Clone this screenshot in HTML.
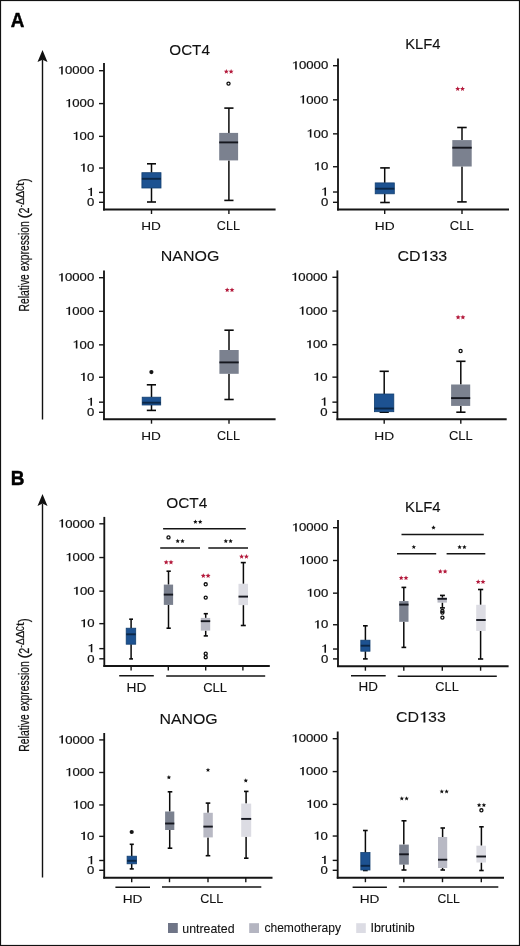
<!DOCTYPE html>
<html><head><meta charset="utf-8"><style>
html,body{margin:0;padding:0;background:#fff;width:520px;height:946px;overflow:hidden}
</style></head><body>
<svg width="520" height="946" viewBox="0 0 520 946" style="display:block;will-change:transform">
<g font-family='"Liberation Sans", sans-serif'>
<rect x="0" y="0" width="520" height="946" fill="#fff"/>
<rect x="0.5" y="0.5" width="519" height="945" fill="none" stroke="#111" stroke-width="1.2"/>
<text transform="translate(10.63,27.30) scale(0.9609,1)" font-size="19.62" font-weight="bold" fill="#000" stroke="#000" stroke-width="0.45">A</text>
<text transform="translate(10.73,484.50) scale(0.9839,1)" font-size="19.33" font-weight="bold" fill="#000" stroke="#000" stroke-width="0.45">B</text>
<polygon points="42.50,50.00 37.50,62.10 42.50,59.70 47.50,62.10" fill="#111"/>
<line x1="42.50" y1="59.50" x2="42.50" y2="419.40" stroke="#111" stroke-width="1.4"/>
<polygon points="42.50,494.00 37.50,506.00 42.50,503.60 47.50,506.00" fill="#111"/>
<line x1="42.50" y1="503.40" x2="42.50" y2="877.50" stroke="#111" stroke-width="1.4"/>
<text transform="translate(28.80,311.55) rotate(-90) scale(0.6817,1)" font-size="15.20" fill="#111" stroke="#111" stroke-width="0.22">Relative expression</text>
<text transform="translate(28.80,218.73) rotate(-90) scale(1.0918,1)" font-size="15.20" fill="#111" stroke="#111" stroke-width="0.22">(</text>
<text transform="translate(28.80,213.54) rotate(-90) scale(0.7076,1)" font-size="15.20" fill="#111" stroke="#111" stroke-width="0.22">2</text>
<text transform="translate(23.50,207.31) rotate(-90) scale(0.6474,1)" font-size="10.76" fill="#111" stroke="#111" stroke-width="0.22">-</text>
<text transform="translate(23.50,204.81) rotate(-90) scale(0.9635,1)" font-size="10.76" fill="#111" stroke="#111" stroke-width="0.22">Δ</text>
<text transform="translate(23.50,197.92) rotate(-90) scale(1.0094,1)" font-size="10.76" fill="#111" stroke="#111" stroke-width="0.22">Δ</text>
<text transform="translate(23.50,190.83) rotate(-90) scale(0.6019,1)" font-size="10.76" fill="#111" stroke="#111" stroke-width="0.22">C</text>
<text transform="translate(23.50,186.00) rotate(-90) scale(1.2014,1)" font-size="10.76" fill="#111" stroke="#111" stroke-width="0.22">t</text>
<text transform="translate(28.80,182.27) rotate(-90) scale(0.7940,1)" font-size="15.20" fill="#111" stroke="#111" stroke-width="0.22">)</text>
<text transform="translate(28.80,751.65) rotate(-90) scale(0.6817,1)" font-size="15.20" fill="#111" stroke="#111" stroke-width="0.22">Relative expression</text>
<text transform="translate(28.80,658.83) rotate(-90) scale(1.0918,1)" font-size="15.20" fill="#111" stroke="#111" stroke-width="0.22">(</text>
<text transform="translate(28.80,653.64) rotate(-90) scale(0.7076,1)" font-size="15.20" fill="#111" stroke="#111" stroke-width="0.22">2</text>
<text transform="translate(23.50,647.41) rotate(-90) scale(0.6474,1)" font-size="10.76" fill="#111" stroke="#111" stroke-width="0.22">-</text>
<text transform="translate(23.50,644.91) rotate(-90) scale(0.9635,1)" font-size="10.76" fill="#111" stroke="#111" stroke-width="0.22">Δ</text>
<text transform="translate(23.50,638.02) rotate(-90) scale(1.0094,1)" font-size="10.76" fill="#111" stroke="#111" stroke-width="0.22">Δ</text>
<text transform="translate(23.50,630.93) rotate(-90) scale(0.6019,1)" font-size="10.76" fill="#111" stroke="#111" stroke-width="0.22">C</text>
<text transform="translate(23.50,626.10) rotate(-90) scale(1.2014,1)" font-size="10.76" fill="#111" stroke="#111" stroke-width="0.22">t</text>
<text transform="translate(28.80,622.37) rotate(-90) scale(0.7940,1)" font-size="15.20" fill="#111" stroke="#111" stroke-width="0.22">)</text>
<line x1="104.00" y1="63.00" x2="104.00" y2="210.40" stroke="#151515" stroke-width="1.85"/>
<line x1="103.10" y1="209.50" x2="275.60" y2="209.50" stroke="#151515" stroke-width="1.85"/>
<line x1="99.00" y1="70.70" x2="104.00" y2="70.70" stroke="#151515" stroke-width="1.4"/>
<path d="M61.18,74.40 L62.76,74.40 L62.76,66.17 L61.58,66.17 L60.92,67.00 L60.13,67.41 L58.94,67.58 L58.94,68.41 L60.13,68.23 L61.18,67.82 Z" fill="#111"/>
<text transform="translate(64.95,74.40) scale(1.1200,1)" font-size="11.75" fill="#111" stroke="#111" stroke-width="0.22">0000</text>
<line x1="99.00" y1="103.59" x2="104.00" y2="103.59" stroke="#151515" stroke-width="1.4"/>
<path d="M68.50,107.29 L70.08,107.29 L70.08,99.06 L68.89,99.06 L68.24,99.88 L67.45,100.29 L66.26,100.47 L66.26,101.29 L67.45,101.12 L68.50,100.71 Z" fill="#111"/>
<text transform="translate(72.26,107.29) scale(1.1200,1)" font-size="11.75" fill="#111" stroke="#111" stroke-width="0.22">000</text>
<line x1="99.00" y1="136.36" x2="104.00" y2="136.36" stroke="#151515" stroke-width="1.4"/>
<path d="M75.82,140.06 L77.39,140.06 L77.39,131.83 L76.21,131.83 L75.55,132.66 L74.76,133.07 L73.58,133.24 L73.58,134.07 L74.76,133.89 L75.82,133.48 Z" fill="#111"/>
<text transform="translate(79.58,140.06) scale(1.1200,1)" font-size="11.75" fill="#111" stroke="#111" stroke-width="0.22">00</text>
<line x1="99.00" y1="168.04" x2="104.00" y2="168.04" stroke="#151515" stroke-width="1.4"/>
<path d="M83.13,171.74 L84.71,171.74 L84.71,163.51 L83.53,163.51 L82.87,164.34 L82.08,164.75 L80.90,164.92 L80.90,165.75 L82.08,165.57 L83.13,165.16 Z" fill="#111"/>
<text transform="translate(86.90,171.74) scale(1.1200,1)" font-size="11.75" fill="#111" stroke="#111" stroke-width="0.22">0</text>
<line x1="99.00" y1="192.40" x2="104.00" y2="192.40" stroke="#151515" stroke-width="1.4"/>
<path d="M90.45,196.10 L92.03,196.10 L92.03,187.87 L90.84,187.87 L90.19,188.69 L89.40,189.10 L88.21,189.28 L88.21,190.10 L89.40,189.93 L90.45,189.52 Z" fill="#111"/>
<line x1="99.00" y1="202.30" x2="104.00" y2="202.30" stroke="#151515" stroke-width="1.4"/>
<text transform="translate(86.90,206.00) scale(1.1200,1)" font-size="11.75" fill="#111" stroke="#111" stroke-width="0.22">0</text>
<text transform="translate(169.28,54.70) scale(1.0140,1)" font-size="15.04" fill="#111" stroke="#111" stroke-width="0.1">OCT4</text>
<line x1="151.50" y1="163.80" x2="151.50" y2="172.70" stroke="#0a0a0a" stroke-width="1.5"/>
<line x1="151.50" y1="188.00" x2="151.50" y2="202.00" stroke="#0a0a0a" stroke-width="1.5"/>
<line x1="147.00" y1="163.80" x2="156.00" y2="163.80" stroke="#0a0a0a" stroke-width="1.6"/>
<line x1="147.00" y1="202.00" x2="156.00" y2="202.00" stroke="#0a0a0a" stroke-width="1.6"/>
<rect x="141.90" y="172.70" width="19.10" height="15.30" fill="#1d5291" stroke="#123f70" stroke-width="0.8"/>
<line x1="141.90" y1="178.80" x2="161.00" y2="178.80" stroke="#0b2747" stroke-width="1.9"/>
<line x1="228.90" y1="108.10" x2="228.90" y2="132.90" stroke="#0a0a0a" stroke-width="1.5"/>
<line x1="228.90" y1="160.40" x2="228.90" y2="200.40" stroke="#0a0a0a" stroke-width="1.5"/>
<line x1="224.30" y1="108.10" x2="233.50" y2="108.10" stroke="#0a0a0a" stroke-width="1.6"/>
<line x1="224.30" y1="200.40" x2="233.50" y2="200.40" stroke="#0a0a0a" stroke-width="1.6"/>
<rect x="219.20" y="132.90" width="18.90" height="27.50" fill="#7b818f"/>
<line x1="219.20" y1="142.40" x2="238.10" y2="142.40" stroke="#15171f" stroke-width="1.9"/>
<circle cx="228.50" cy="83.60" r="1.55" fill="none" stroke="#0d0d0d" stroke-width="1.3"/>
<polygon points="226.30,69.00 226.99,70.65 228.77,70.80 227.41,71.96 227.83,73.70 226.30,72.77 224.77,73.70 225.19,71.96 223.83,70.80 225.61,70.65" fill="#b41a3c"/>
<polygon points="231.10,69.00 231.79,70.65 233.57,70.80 232.21,71.96 232.63,73.70 231.10,72.77 229.57,73.70 229.99,71.96 228.63,70.80 230.41,70.65" fill="#b41a3c"/>
<line x1="151.50" y1="209.50" x2="151.50" y2="214.00" stroke="#151515" stroke-width="1.4"/>
<line x1="228.90" y1="209.50" x2="228.90" y2="214.00" stroke="#151515" stroke-width="1.4"/>
<text transform="translate(141.18,229.80) scale(1.1711,1)" font-size="11.63" fill="#111" stroke="#111" stroke-width="0.1">HD</text>
<text transform="translate(216.86,229.90) scale(1.0250,1)" font-size="12.32" fill="#111" stroke="#111" stroke-width="0.1">CLL</text>
<line x1="338.00" y1="58.50" x2="338.00" y2="210.40" stroke="#151515" stroke-width="1.85"/>
<line x1="337.10" y1="209.50" x2="509.00" y2="209.50" stroke="#151515" stroke-width="1.85"/>
<line x1="333.00" y1="65.70" x2="338.00" y2="65.70" stroke="#151515" stroke-width="1.4"/>
<path d="M295.18,69.40 L296.76,69.40 L296.76,61.17 L295.58,61.17 L294.92,62.00 L294.13,62.41 L292.94,62.58 L292.94,63.41 L294.13,63.23 L295.18,62.82 Z" fill="#111"/>
<text transform="translate(298.95,69.40) scale(1.1200,1)" font-size="11.75" fill="#111" stroke="#111" stroke-width="0.22">0000</text>
<line x1="333.00" y1="99.84" x2="338.00" y2="99.84" stroke="#151515" stroke-width="1.4"/>
<path d="M302.50,103.54 L304.08,103.54 L304.08,95.31 L302.89,95.31 L302.24,96.13 L301.45,96.54 L300.26,96.72 L300.26,97.54 L301.45,97.37 L302.50,96.96 Z" fill="#111"/>
<text transform="translate(306.26,103.54) scale(1.1200,1)" font-size="11.75" fill="#111" stroke="#111" stroke-width="0.22">000</text>
<line x1="333.00" y1="133.85" x2="338.00" y2="133.85" stroke="#151515" stroke-width="1.4"/>
<path d="M309.82,137.55 L311.39,137.55 L311.39,129.33 L310.21,129.33 L309.55,130.15 L308.76,130.56 L307.58,130.74 L307.58,131.56 L308.76,131.38 L309.82,130.97 Z" fill="#111"/>
<text transform="translate(313.58,137.55) scale(1.1200,1)" font-size="11.75" fill="#111" stroke="#111" stroke-width="0.22">00</text>
<line x1="333.00" y1="166.74" x2="338.00" y2="166.74" stroke="#151515" stroke-width="1.4"/>
<path d="M317.13,170.44 L318.71,170.44 L318.71,162.21 L317.53,162.21 L316.87,163.03 L316.08,163.45 L314.90,163.62 L314.90,164.44 L316.08,164.27 L317.13,163.86 Z" fill="#111"/>
<text transform="translate(320.90,170.44) scale(1.1200,1)" font-size="11.75" fill="#111" stroke="#111" stroke-width="0.22">0</text>
<line x1="333.00" y1="192.02" x2="338.00" y2="192.02" stroke="#151515" stroke-width="1.4"/>
<path d="M324.45,195.72 L326.03,195.72 L326.03,187.49 L324.84,187.49 L324.19,188.32 L323.40,188.73 L322.21,188.90 L322.21,189.73 L323.40,189.55 L324.45,189.14 Z" fill="#111"/>
<line x1="333.00" y1="202.30" x2="338.00" y2="202.30" stroke="#151515" stroke-width="1.4"/>
<text transform="translate(320.90,206.00) scale(1.1200,1)" font-size="11.75" fill="#111" stroke="#111" stroke-width="0.22">0</text>
<text transform="translate(405.19,48.80) scale(1.0598,1)" font-size="13.95" fill="#111" stroke="#111" stroke-width="0.1">KLF4</text>
<line x1="384.70" y1="167.90" x2="384.70" y2="182.90" stroke="#0a0a0a" stroke-width="1.5"/>
<line x1="384.70" y1="193.80" x2="384.70" y2="202.50" stroke="#0a0a0a" stroke-width="1.5"/>
<line x1="380.20" y1="167.90" x2="389.80" y2="167.90" stroke="#0a0a0a" stroke-width="1.6"/>
<line x1="380.20" y1="202.50" x2="389.80" y2="202.50" stroke="#0a0a0a" stroke-width="1.6"/>
<rect x="375.20" y="182.90" width="19.10" height="10.90" fill="#1d5291" stroke="#123f70" stroke-width="0.8"/>
<line x1="375.20" y1="188.70" x2="394.30" y2="188.70" stroke="#0b2747" stroke-width="1.9"/>
<line x1="462.00" y1="127.50" x2="462.00" y2="140.10" stroke="#0a0a0a" stroke-width="1.5"/>
<line x1="462.00" y1="166.50" x2="462.00" y2="201.90" stroke="#0a0a0a" stroke-width="1.5"/>
<line x1="457.20" y1="127.50" x2="466.70" y2="127.50" stroke="#0a0a0a" stroke-width="1.6"/>
<line x1="457.20" y1="201.90" x2="466.70" y2="201.90" stroke="#0a0a0a" stroke-width="1.6"/>
<rect x="452.30" y="140.10" width="19.40" height="26.40" fill="#7b818f"/>
<line x1="452.30" y1="147.70" x2="471.70" y2="147.70" stroke="#15171f" stroke-width="1.9"/>
<polygon points="457.70,86.30 458.39,87.95 460.17,88.10 458.81,89.26 459.23,91.00 457.70,90.07 456.17,91.00 456.59,89.26 455.23,88.10 457.01,87.95" fill="#b41a3c"/>
<polygon points="462.50,86.30 463.19,87.95 464.97,88.10 463.61,89.26 464.03,91.00 462.50,90.07 460.97,91.00 461.39,89.26 460.03,88.10 461.81,87.95" fill="#b41a3c"/>
<line x1="384.70" y1="209.50" x2="384.70" y2="214.00" stroke="#151515" stroke-width="1.4"/>
<line x1="462.00" y1="209.50" x2="462.00" y2="214.00" stroke="#151515" stroke-width="1.4"/>
<text transform="translate(374.77,229.60) scale(1.1842,1)" font-size="11.63" fill="#111" stroke="#111" stroke-width="0.1">HD</text>
<text transform="translate(449.84,230.30) scale(1.0529,1)" font-size="12.32" fill="#111" stroke="#111" stroke-width="0.1">CLL</text>
<line x1="104.00" y1="270.50" x2="104.00" y2="420.10" stroke="#151515" stroke-width="1.85"/>
<line x1="103.10" y1="419.20" x2="275.60" y2="419.20" stroke="#151515" stroke-width="1.85"/>
<line x1="99.00" y1="277.70" x2="104.00" y2="277.70" stroke="#151515" stroke-width="1.4"/>
<path d="M61.18,281.40 L62.76,281.40 L62.76,273.17 L61.58,273.17 L60.92,274.00 L60.13,274.41 L58.94,274.58 L58.94,275.41 L60.13,275.23 L61.18,274.82 Z" fill="#111"/>
<text transform="translate(64.95,281.40) scale(1.1200,1)" font-size="11.75" fill="#111" stroke="#111" stroke-width="0.22">0000</text>
<line x1="99.00" y1="311.34" x2="104.00" y2="311.34" stroke="#151515" stroke-width="1.4"/>
<path d="M68.50,315.04 L70.08,315.04 L70.08,306.81 L68.89,306.81 L68.24,307.63 L67.45,308.04 L66.26,308.22 L66.26,309.04 L67.45,308.87 L68.50,308.46 Z" fill="#111"/>
<text transform="translate(72.26,315.04) scale(1.1200,1)" font-size="11.75" fill="#111" stroke="#111" stroke-width="0.22">000</text>
<line x1="99.00" y1="344.85" x2="104.00" y2="344.85" stroke="#151515" stroke-width="1.4"/>
<path d="M75.82,348.55 L77.39,348.55 L77.39,340.33 L76.21,340.33 L75.55,341.15 L74.76,341.56 L73.58,341.74 L73.58,342.56 L74.76,342.39 L75.82,341.97 Z" fill="#111"/>
<text transform="translate(79.58,348.55) scale(1.1200,1)" font-size="11.75" fill="#111" stroke="#111" stroke-width="0.22">00</text>
<line x1="99.00" y1="377.26" x2="104.00" y2="377.26" stroke="#151515" stroke-width="1.4"/>
<path d="M83.13,380.96 L84.71,380.96 L84.71,372.73 L83.53,372.73 L82.87,373.55 L82.08,373.97 L80.90,374.14 L80.90,374.96 L82.08,374.79 L83.13,374.38 Z" fill="#111"/>
<text transform="translate(86.90,380.96) scale(1.1200,1)" font-size="11.75" fill="#111" stroke="#111" stroke-width="0.22">0</text>
<line x1="99.00" y1="402.17" x2="104.00" y2="402.17" stroke="#151515" stroke-width="1.4"/>
<path d="M90.45,405.87 L92.03,405.87 L92.03,397.65 L90.84,397.65 L90.19,398.47 L89.40,398.88 L88.21,399.06 L88.21,399.88 L89.40,399.70 L90.45,399.29 Z" fill="#111"/>
<line x1="99.00" y1="412.30" x2="104.00" y2="412.30" stroke="#151515" stroke-width="1.4"/>
<text transform="translate(86.90,416.00) scale(1.1200,1)" font-size="11.75" fill="#111" stroke="#111" stroke-width="0.22">0</text>
<text transform="translate(160.69,260.80) scale(1.0853,1)" font-size="14.75" fill="#111" stroke="#111" stroke-width="0.1">NANOG</text>
<line x1="151.50" y1="384.80" x2="151.50" y2="397.20" stroke="#0a0a0a" stroke-width="1.5"/>
<line x1="151.50" y1="405.00" x2="151.50" y2="410.40" stroke="#0a0a0a" stroke-width="1.5"/>
<line x1="146.80" y1="384.80" x2="156.00" y2="384.80" stroke="#0a0a0a" stroke-width="1.6"/>
<line x1="146.80" y1="410.40" x2="156.00" y2="410.40" stroke="#0a0a0a" stroke-width="1.6"/>
<rect x="142.20" y="397.20" width="18.50" height="7.80" fill="#1d5291" stroke="#123f70" stroke-width="0.8"/>
<line x1="142.20" y1="402.70" x2="160.70" y2="402.70" stroke="#0b2747" stroke-width="1.9"/>
<circle cx="151.40" cy="372.10" r="2.1" fill="#151515"/>
<line x1="229.00" y1="330.20" x2="229.00" y2="350.00" stroke="#0a0a0a" stroke-width="1.5"/>
<line x1="229.00" y1="373.80" x2="229.00" y2="399.50" stroke="#0a0a0a" stroke-width="1.5"/>
<line x1="224.40" y1="330.20" x2="233.70" y2="330.20" stroke="#0a0a0a" stroke-width="1.6"/>
<line x1="224.40" y1="399.50" x2="233.70" y2="399.50" stroke="#0a0a0a" stroke-width="1.6"/>
<rect x="219.40" y="350.00" width="19.30" height="23.80" fill="#7b818f"/>
<line x1="219.40" y1="362.40" x2="238.70" y2="362.40" stroke="#15171f" stroke-width="1.9"/>
<polygon points="227.20,287.40 227.89,289.05 229.67,289.20 228.31,290.36 228.73,292.10 227.20,291.17 225.67,292.10 226.09,290.36 224.73,289.20 226.51,289.05" fill="#b41a3c"/>
<polygon points="232.00,287.40 232.69,289.05 234.47,289.20 233.11,290.36 233.53,292.10 232.00,291.17 230.47,292.10 230.89,290.36 229.53,289.20 231.31,289.05" fill="#b41a3c"/>
<line x1="151.50" y1="419.20" x2="151.50" y2="423.70" stroke="#151515" stroke-width="1.4"/>
<line x1="229.00" y1="419.20" x2="229.00" y2="423.70" stroke="#151515" stroke-width="1.4"/>
<text transform="translate(141.18,439.60) scale(1.1711,1)" font-size="11.63" fill="#111" stroke="#111" stroke-width="0.1">HD</text>
<text transform="translate(216.96,440.00) scale(1.0250,1)" font-size="12.32" fill="#111" stroke="#111" stroke-width="0.1">CLL</text>
<line x1="337.40" y1="270.40" x2="337.40" y2="420.10" stroke="#151515" stroke-width="1.85"/>
<line x1="336.50" y1="419.20" x2="506.70" y2="419.20" stroke="#151515" stroke-width="1.85"/>
<line x1="332.40" y1="277.30" x2="337.40" y2="277.30" stroke="#151515" stroke-width="1.4"/>
<path d="M294.58,281.00 L296.16,281.00 L296.16,272.77 L294.98,272.77 L294.32,273.60 L293.53,274.01 L292.34,274.18 L292.34,275.01 L293.53,274.83 L294.58,274.42 Z" fill="#111"/>
<text transform="translate(298.35,281.00) scale(1.1200,1)" font-size="11.75" fill="#111" stroke="#111" stroke-width="0.22">0000</text>
<line x1="332.40" y1="311.04" x2="337.40" y2="311.04" stroke="#151515" stroke-width="1.4"/>
<path d="M301.90,314.74 L303.48,314.74 L303.48,306.51 L302.29,306.51 L301.64,307.33 L300.85,307.74 L299.66,307.92 L299.66,308.74 L300.85,308.57 L301.90,308.16 Z" fill="#111"/>
<text transform="translate(305.66,314.74) scale(1.1200,1)" font-size="11.75" fill="#111" stroke="#111" stroke-width="0.22">000</text>
<line x1="332.40" y1="344.65" x2="337.40" y2="344.65" stroke="#151515" stroke-width="1.4"/>
<path d="M309.22,348.35 L310.79,348.35 L310.79,340.13 L309.61,340.13 L308.95,340.95 L308.16,341.36 L306.98,341.54 L306.98,342.36 L308.16,342.19 L309.22,341.77 Z" fill="#111"/>
<text transform="translate(312.98,348.35) scale(1.1200,1)" font-size="11.75" fill="#111" stroke="#111" stroke-width="0.22">00</text>
<line x1="332.40" y1="377.15" x2="337.40" y2="377.15" stroke="#151515" stroke-width="1.4"/>
<path d="M316.53,380.85 L318.11,380.85 L318.11,372.63 L316.93,372.63 L316.27,373.45 L315.48,373.86 L314.30,374.04 L314.30,374.86 L315.48,374.68 L316.53,374.27 Z" fill="#111"/>
<text transform="translate(320.30,380.85) scale(1.1200,1)" font-size="11.75" fill="#111" stroke="#111" stroke-width="0.22">0</text>
<line x1="332.40" y1="402.14" x2="337.40" y2="402.14" stroke="#151515" stroke-width="1.4"/>
<path d="M323.85,405.84 L325.43,405.84 L325.43,397.62 L324.24,397.62 L323.59,398.44 L322.80,398.85 L321.61,399.03 L321.61,399.85 L322.80,399.67 L323.85,399.26 Z" fill="#111"/>
<line x1="332.40" y1="412.30" x2="337.40" y2="412.30" stroke="#151515" stroke-width="1.4"/>
<text transform="translate(320.30,416.00) scale(1.1200,1)" font-size="11.75" fill="#111" stroke="#111" stroke-width="0.22">0</text>
<text transform="translate(397.39,261.10) scale(1.0849,1)" font-size="14.75" fill="#111" stroke="#111" stroke-width="0.1">CD</text>
<path d="M424.82,261.10 L426.74,261.10 L426.74,250.77 L425.30,250.77 L424.50,251.81 L423.54,252.32 L422.10,252.54 L422.10,253.58 L423.54,253.36 L424.82,252.84 Z" fill="#111"/>
<text transform="translate(429.40,261.10) scale(1.0849,1)" font-size="14.75" fill="#111" stroke="#111" stroke-width="0.1">33</text>
<line x1="384.20" y1="371.30" x2="384.20" y2="394.00" stroke="#0a0a0a" stroke-width="1.5"/>
<line x1="384.20" y1="411.70" x2="384.20" y2="412.20" stroke="#0a0a0a" stroke-width="1.5"/>
<line x1="379.60" y1="371.30" x2="388.80" y2="371.30" stroke="#0a0a0a" stroke-width="1.6"/>
<line x1="379.60" y1="412.20" x2="388.80" y2="412.20" stroke="#0a0a0a" stroke-width="1.6"/>
<rect x="374.40" y="394.00" width="19.40" height="17.70" fill="#1d5291" stroke="#123f70" stroke-width="0.8"/>
<line x1="374.40" y1="408.50" x2="393.80" y2="408.50" stroke="#0b2747" stroke-width="1.9"/>
<line x1="460.80" y1="361.30" x2="460.80" y2="384.50" stroke="#0a0a0a" stroke-width="1.5"/>
<line x1="460.80" y1="405.90" x2="460.80" y2="412.20" stroke="#0a0a0a" stroke-width="1.5"/>
<line x1="456.30" y1="361.30" x2="465.50" y2="361.30" stroke="#0a0a0a" stroke-width="1.6"/>
<line x1="456.30" y1="412.20" x2="465.50" y2="412.20" stroke="#0a0a0a" stroke-width="1.6"/>
<rect x="451.10" y="384.50" width="19.10" height="21.40" fill="#7b818f"/>
<line x1="451.10" y1="398.10" x2="470.20" y2="398.10" stroke="#15171f" stroke-width="1.9"/>
<circle cx="460.60" cy="351.00" r="1.55" fill="none" stroke="#0d0d0d" stroke-width="1.3"/>
<polygon points="458.10,314.70 458.79,316.35 460.57,316.50 459.21,317.66 459.63,319.40 458.10,318.47 456.57,319.40 456.99,317.66 455.63,316.50 457.41,316.35" fill="#b41a3c"/>
<polygon points="462.90,314.70 463.59,316.35 465.37,316.50 464.01,317.66 464.43,319.40 462.90,318.47 461.37,319.40 461.79,317.66 460.43,316.50 462.21,316.35" fill="#b41a3c"/>
<line x1="384.20" y1="419.20" x2="384.20" y2="423.70" stroke="#151515" stroke-width="1.4"/>
<line x1="460.80" y1="419.20" x2="460.80" y2="423.70" stroke="#151515" stroke-width="1.4"/>
<text transform="translate(374.27,439.60) scale(1.1842,1)" font-size="11.63" fill="#111" stroke="#111" stroke-width="0.1">HD</text>
<text transform="translate(448.94,440.20) scale(1.0529,1)" font-size="12.32" fill="#111" stroke="#111" stroke-width="0.1">CLL</text>
<line x1="104.30" y1="516.90" x2="104.30" y2="666.90" stroke="#151515" stroke-width="1.85"/>
<line x1="103.40" y1="666.00" x2="269.80" y2="666.00" stroke="#151515" stroke-width="1.85"/>
<line x1="99.30" y1="523.80" x2="104.30" y2="523.80" stroke="#151515" stroke-width="1.4"/>
<path d="M61.48,527.50 L63.06,527.50 L63.06,519.27 L61.88,519.27 L61.22,520.10 L60.43,520.51 L59.24,520.68 L59.24,521.51 L60.43,521.33 L61.48,520.92 Z" fill="#111"/>
<text transform="translate(65.25,527.50) scale(1.1200,1)" font-size="11.75" fill="#111" stroke="#111" stroke-width="0.22">0000</text>
<line x1="99.30" y1="557.54" x2="104.30" y2="557.54" stroke="#151515" stroke-width="1.4"/>
<path d="M68.80,561.24 L70.38,561.24 L70.38,553.01 L69.19,553.01 L68.54,553.83 L67.75,554.24 L66.56,554.42 L66.56,555.24 L67.75,555.07 L68.80,554.66 Z" fill="#111"/>
<text transform="translate(72.56,561.24) scale(1.1200,1)" font-size="11.75" fill="#111" stroke="#111" stroke-width="0.22">000</text>
<line x1="99.30" y1="591.15" x2="104.30" y2="591.15" stroke="#151515" stroke-width="1.4"/>
<path d="M76.12,594.85 L77.69,594.85 L77.69,586.63 L76.51,586.63 L75.85,587.45 L75.06,587.86 L73.88,588.04 L73.88,588.86 L75.06,588.69 L76.12,588.27 Z" fill="#111"/>
<text transform="translate(79.88,594.85) scale(1.1200,1)" font-size="11.75" fill="#111" stroke="#111" stroke-width="0.22">00</text>
<line x1="99.30" y1="623.65" x2="104.30" y2="623.65" stroke="#151515" stroke-width="1.4"/>
<path d="M83.43,627.35 L85.01,627.35 L85.01,619.13 L83.83,619.13 L83.17,619.95 L82.38,620.36 L81.20,620.54 L81.20,621.36 L82.38,621.18 L83.43,620.77 Z" fill="#111"/>
<text transform="translate(87.20,627.35) scale(1.1200,1)" font-size="11.75" fill="#111" stroke="#111" stroke-width="0.22">0</text>
<line x1="99.30" y1="648.64" x2="104.30" y2="648.64" stroke="#151515" stroke-width="1.4"/>
<path d="M90.75,652.34 L92.33,652.34 L92.33,644.12 L91.14,644.12 L90.49,644.94 L89.70,645.35 L88.51,645.53 L88.51,646.35 L89.70,646.17 L90.75,645.76 Z" fill="#111"/>
<line x1="99.30" y1="658.80" x2="104.30" y2="658.80" stroke="#151515" stroke-width="1.4"/>
<text transform="translate(87.20,662.50) scale(1.1200,1)" font-size="11.75" fill="#111" stroke="#111" stroke-width="0.22">0</text>
<text transform="translate(166.17,507.50) scale(1.0269,1)" font-size="15.04" fill="#111" stroke="#111" stroke-width="0.1">OCT4</text>
<line x1="131.10" y1="619.20" x2="131.10" y2="628.20" stroke="#0a0a0a" stroke-width="1.5"/>
<line x1="131.10" y1="644.20" x2="131.10" y2="658.90" stroke="#0a0a0a" stroke-width="1.5"/>
<line x1="129.20" y1="619.20" x2="133.00" y2="619.20" stroke="#0a0a0a" stroke-width="1.6"/>
<line x1="129.20" y1="658.90" x2="133.00" y2="658.90" stroke="#0a0a0a" stroke-width="1.6"/>
<rect x="126.20" y="628.20" width="9.50" height="16.00" fill="#1d5291" stroke="#123f70" stroke-width="0.8"/>
<line x1="126.20" y1="634.30" x2="135.70" y2="634.30" stroke="#0b2747" stroke-width="1.9"/>
<line x1="168.50" y1="571.20" x2="168.50" y2="584.60" stroke="#0a0a0a" stroke-width="1.5"/>
<line x1="168.50" y1="604.90" x2="168.50" y2="628.20" stroke="#0a0a0a" stroke-width="1.5"/>
<line x1="166.50" y1="571.20" x2="170.80" y2="571.20" stroke="#0a0a0a" stroke-width="1.6"/>
<line x1="166.50" y1="628.20" x2="170.80" y2="628.20" stroke="#0a0a0a" stroke-width="1.6"/>
<rect x="163.80" y="584.60" width="9.30" height="20.30" fill="#7b818f"/>
<line x1="163.80" y1="594.60" x2="173.10" y2="594.60" stroke="#15171f" stroke-width="1.9"/>
<circle cx="168.50" cy="537.40" r="1.55" fill="none" stroke="#0d0d0d" stroke-width="1.3"/>
<polygon points="166.20,559.70 166.89,561.35 168.67,561.50 167.31,562.66 167.73,564.40 166.20,563.47 164.67,564.40 165.09,562.66 163.73,561.50 165.51,561.35" fill="#b41a3c"/>
<polygon points="171.00,559.70 171.69,561.35 173.47,561.50 172.11,562.66 172.53,564.40 171.00,563.47 169.47,564.40 169.89,562.66 168.53,561.50 170.31,561.35" fill="#b41a3c"/>
<line x1="205.70" y1="613.70" x2="205.70" y2="617.90" stroke="#0a0a0a" stroke-width="1.5"/>
<line x1="205.70" y1="630.60" x2="205.70" y2="635.90" stroke="#0a0a0a" stroke-width="1.5"/>
<line x1="203.70" y1="613.70" x2="207.90" y2="613.70" stroke="#0a0a0a" stroke-width="1.6"/>
<line x1="203.70" y1="635.90" x2="207.90" y2="635.90" stroke="#0a0a0a" stroke-width="1.6"/>
<rect x="200.80" y="617.90" width="9.40" height="12.70" fill="#b8b9c4"/>
<line x1="200.80" y1="621.20" x2="210.20" y2="621.20" stroke="#15171f" stroke-width="1.9"/>
<circle cx="205.70" cy="584.30" r="1.55" fill="none" stroke="#0d0d0d" stroke-width="1.3"/>
<circle cx="205.70" cy="597.60" r="1.55" fill="none" stroke="#0d0d0d" stroke-width="1.3"/>
<circle cx="205.70" cy="653.70" r="1.55" fill="none" stroke="#0d0d0d" stroke-width="1.3"/>
<circle cx="205.70" cy="657.20" r="1.55" fill="none" stroke="#0d0d0d" stroke-width="1.3"/>
<polygon points="203.30,573.20 203.99,574.85 205.77,575.00 204.41,576.16 204.83,577.90 203.30,576.97 201.77,577.90 202.19,576.16 200.83,575.00 202.61,574.85" fill="#b41a3c"/>
<polygon points="208.10,573.20 208.79,574.85 210.57,575.00 209.21,576.16 209.63,577.90 208.10,576.97 206.57,577.90 206.99,576.16 205.63,575.00 207.41,574.85" fill="#b41a3c"/>
<line x1="243.40" y1="562.60" x2="243.40" y2="583.80" stroke="#0a0a0a" stroke-width="1.5"/>
<line x1="243.40" y1="605.10" x2="243.40" y2="625.50" stroke="#0a0a0a" stroke-width="1.5"/>
<line x1="240.80" y1="562.60" x2="245.80" y2="562.60" stroke="#0a0a0a" stroke-width="1.6"/>
<line x1="240.80" y1="625.50" x2="245.80" y2="625.50" stroke="#0a0a0a" stroke-width="1.6"/>
<rect x="238.50" y="583.80" width="9.50" height="21.30" fill="#dcdce3"/>
<line x1="238.50" y1="596.60" x2="248.00" y2="596.60" stroke="#15171f" stroke-width="1.9"/>
<polygon points="241.60,554.00 242.29,555.65 244.07,555.80 242.71,556.96 243.13,558.70 241.60,557.77 240.07,558.70 240.49,556.96 239.13,555.80 240.91,555.65" fill="#b41a3c"/>
<polygon points="246.40,554.00 247.09,555.65 248.87,555.80 247.51,556.96 247.93,558.70 246.40,557.77 244.87,558.70 245.29,556.96 243.93,555.80 245.71,555.65" fill="#b41a3c"/>
<line x1="163.10" y1="528.70" x2="245.80" y2="528.70" stroke="#151515" stroke-width="1.5"/>
<polygon points="195.40,519.55 196.02,521.04 197.63,521.17 196.41,522.23 196.78,523.80 195.40,522.96 194.02,523.80 194.39,522.23 193.17,521.17 194.78,521.04" fill="#111"/>
<polygon points="200.20,519.55 200.82,521.04 202.43,521.17 201.21,522.23 201.58,523.80 200.20,522.96 198.82,523.80 199.19,522.23 197.97,521.17 199.58,521.04" fill="#111"/>
<line x1="160.20" y1="548.10" x2="200.00" y2="548.10" stroke="#151515" stroke-width="1.5"/>
<polygon points="177.70,538.85 178.32,540.34 179.93,540.47 178.71,541.53 179.08,543.10 177.70,542.26 176.32,543.10 176.69,541.53 175.47,540.47 177.08,540.34" fill="#111"/>
<polygon points="182.50,538.85 183.12,540.34 184.73,540.47 183.51,541.53 183.88,543.10 182.50,542.26 181.12,543.10 181.49,541.53 180.27,540.47 181.88,540.34" fill="#111"/>
<line x1="208.30" y1="548.10" x2="248.00" y2="548.10" stroke="#151515" stroke-width="1.5"/>
<polygon points="225.80,538.85 226.42,540.34 228.03,540.47 226.81,541.53 227.18,543.10 225.80,542.26 224.42,543.10 224.79,541.53 223.57,540.47 225.18,540.34" fill="#111"/>
<polygon points="230.60,538.85 231.22,540.34 232.83,540.47 231.61,541.53 231.98,543.10 230.60,542.26 229.22,543.10 229.59,541.53 228.37,540.47 229.98,540.34" fill="#111"/>
<line x1="131.10" y1="666.00" x2="131.10" y2="670.50" stroke="#151515" stroke-width="1.4"/>
<line x1="168.30" y1="666.00" x2="168.30" y2="670.50" stroke="#151515" stroke-width="1.4"/>
<line x1="205.70" y1="666.00" x2="205.70" y2="670.50" stroke="#151515" stroke-width="1.4"/>
<line x1="242.90" y1="666.00" x2="242.90" y2="670.50" stroke="#151515" stroke-width="1.4"/>
<line x1="119.20" y1="675.80" x2="153.80" y2="675.80" stroke="#151515" stroke-width="1.5"/>
<line x1="166.20" y1="676.00" x2="265.20" y2="676.00" stroke="#151515" stroke-width="1.5"/>
<text transform="translate(126.57,691.50) scale(1.1414,1)" font-size="12.06" fill="#111" stroke="#111" stroke-width="0.1">HD</text>
<text transform="translate(203.14,691.70) scale(1.0263,1)" font-size="12.75" fill="#111" stroke="#111" stroke-width="0.1">CLL</text>
<line x1="338.00" y1="520.00" x2="338.00" y2="667.10" stroke="#151515" stroke-width="1.85"/>
<line x1="337.10" y1="666.20" x2="508.60" y2="666.20" stroke="#151515" stroke-width="1.85"/>
<line x1="333.00" y1="527.70" x2="338.00" y2="527.70" stroke="#151515" stroke-width="1.4"/>
<path d="M295.18,531.40 L296.76,531.40 L296.76,523.17 L295.58,523.17 L294.92,524.00 L294.13,524.41 L292.94,524.58 L292.94,525.41 L294.13,525.23 L295.18,524.82 Z" fill="#111"/>
<text transform="translate(298.95,531.40) scale(1.1200,1)" font-size="11.75" fill="#111" stroke="#111" stroke-width="0.22">0000</text>
<line x1="333.00" y1="560.49" x2="338.00" y2="560.49" stroke="#151515" stroke-width="1.4"/>
<path d="M302.50,564.19 L304.08,564.19 L304.08,555.96 L302.89,555.96 L302.24,556.78 L301.45,557.19 L300.26,557.37 L300.26,558.19 L301.45,558.02 L302.50,557.61 Z" fill="#111"/>
<text transform="translate(306.26,564.19) scale(1.1200,1)" font-size="11.75" fill="#111" stroke="#111" stroke-width="0.22">000</text>
<line x1="333.00" y1="593.16" x2="338.00" y2="593.16" stroke="#151515" stroke-width="1.4"/>
<path d="M309.82,596.86 L311.39,596.86 L311.39,588.63 L310.21,588.63 L309.55,589.46 L308.76,589.87 L307.58,590.04 L307.58,590.87 L308.76,590.69 L309.82,590.28 Z" fill="#111"/>
<text transform="translate(313.58,596.86) scale(1.1200,1)" font-size="11.75" fill="#111" stroke="#111" stroke-width="0.22">00</text>
<line x1="333.00" y1="624.74" x2="338.00" y2="624.74" stroke="#151515" stroke-width="1.4"/>
<path d="M317.13,628.44 L318.71,628.44 L318.71,620.22 L317.53,620.22 L316.87,621.04 L316.08,621.45 L314.90,621.63 L314.90,622.45 L316.08,622.27 L317.13,621.86 Z" fill="#111"/>
<text transform="translate(320.90,628.44) scale(1.1200,1)" font-size="11.75" fill="#111" stroke="#111" stroke-width="0.22">0</text>
<line x1="333.00" y1="649.03" x2="338.00" y2="649.03" stroke="#151515" stroke-width="1.4"/>
<path d="M324.45,652.73 L326.03,652.73 L326.03,644.50 L324.84,644.50 L324.19,645.32 L323.40,645.73 L322.21,645.91 L322.21,646.73 L323.40,646.56 L324.45,646.15 Z" fill="#111"/>
<line x1="333.00" y1="658.90" x2="338.00" y2="658.90" stroke="#151515" stroke-width="1.4"/>
<text transform="translate(320.90,662.60) scale(1.1200,1)" font-size="11.75" fill="#111" stroke="#111" stroke-width="0.22">0</text>
<text transform="translate(404.98,511.50) scale(1.0551,1)" font-size="14.10" fill="#111" stroke="#111" stroke-width="0.1">KLF4</text>
<line x1="365.40" y1="625.80" x2="365.40" y2="640.20" stroke="#0a0a0a" stroke-width="1.5"/>
<line x1="365.40" y1="651.20" x2="365.40" y2="658.90" stroke="#0a0a0a" stroke-width="1.5"/>
<line x1="363.00" y1="625.80" x2="367.70" y2="625.80" stroke="#0a0a0a" stroke-width="1.6"/>
<line x1="363.00" y1="658.90" x2="367.70" y2="658.90" stroke="#0a0a0a" stroke-width="1.6"/>
<rect x="360.80" y="640.20" width="9.20" height="11.00" fill="#1d5291" stroke="#123f70" stroke-width="0.8"/>
<line x1="360.80" y1="645.70" x2="370.00" y2="645.70" stroke="#0b2747" stroke-width="1.9"/>
<line x1="403.80" y1="587.40" x2="403.80" y2="601.10" stroke="#0a0a0a" stroke-width="1.5"/>
<line x1="403.80" y1="621.80" x2="403.80" y2="647.40" stroke="#0a0a0a" stroke-width="1.5"/>
<line x1="401.50" y1="587.40" x2="406.20" y2="587.40" stroke="#0a0a0a" stroke-width="1.6"/>
<line x1="401.50" y1="647.40" x2="406.20" y2="647.40" stroke="#0a0a0a" stroke-width="1.6"/>
<rect x="399.20" y="601.10" width="9.30" height="20.70" fill="#7b818f"/>
<line x1="399.20" y1="604.60" x2="408.50" y2="604.60" stroke="#15171f" stroke-width="1.9"/>
<polygon points="401.20,575.40 401.89,577.05 403.67,577.20 402.31,578.36 402.73,580.10 401.20,579.17 399.67,580.10 400.09,578.36 398.73,577.20 400.51,577.05" fill="#b41a3c"/>
<polygon points="406.00,575.40 406.69,577.05 408.47,577.20 407.11,578.36 407.53,580.10 406.00,579.17 404.47,580.10 404.89,578.36 403.53,577.20 405.31,577.05" fill="#b41a3c"/>
<line x1="442.40" y1="595.40" x2="442.40" y2="597.80" stroke="#0a0a0a" stroke-width="1.5"/>
<line x1="442.40" y1="602.60" x2="442.40" y2="607.90" stroke="#0a0a0a" stroke-width="1.5"/>
<line x1="440.00" y1="595.40" x2="444.90" y2="595.40" stroke="#0a0a0a" stroke-width="1.6"/>
<line x1="440.00" y1="607.90" x2="444.90" y2="607.90" stroke="#0a0a0a" stroke-width="1.6"/>
<rect x="437.50" y="597.80" width="9.40" height="4.80" fill="#b8b9c4"/>
<line x1="437.50" y1="598.80" x2="446.90" y2="598.80" stroke="#15171f" stroke-width="1.9"/>
<circle cx="442.40" cy="610.90" r="1.55" fill="none" stroke="#0d0d0d" stroke-width="1.3"/>
<circle cx="442.40" cy="612.60" r="1.55" fill="none" stroke="#0d0d0d" stroke-width="1.3"/>
<circle cx="442.40" cy="617.60" r="1.55" fill="none" stroke="#0d0d0d" stroke-width="1.3"/>
<polygon points="440.30,568.90 440.99,570.55 442.77,570.70 441.41,571.86 441.83,573.60 440.30,572.67 438.77,573.60 439.19,571.86 437.83,570.70 439.61,570.55" fill="#b41a3c"/>
<polygon points="445.10,568.90 445.79,570.55 447.57,570.70 446.21,571.86 446.63,573.60 445.10,572.67 443.57,573.60 443.99,571.86 442.63,570.70 444.41,570.55" fill="#b41a3c"/>
<line x1="480.60" y1="589.50" x2="480.60" y2="604.80" stroke="#0a0a0a" stroke-width="1.5"/>
<line x1="480.60" y1="631.00" x2="480.60" y2="659.00" stroke="#0a0a0a" stroke-width="1.5"/>
<line x1="478.00" y1="589.50" x2="483.20" y2="589.50" stroke="#0a0a0a" stroke-width="1.6"/>
<line x1="478.00" y1="659.00" x2="483.20" y2="659.00" stroke="#0a0a0a" stroke-width="1.6"/>
<rect x="476.20" y="604.80" width="9.50" height="26.20" fill="#dcdce3"/>
<line x1="476.20" y1="620.00" x2="485.70" y2="620.00" stroke="#15171f" stroke-width="1.9"/>
<polygon points="478.20,579.30 478.89,580.95 480.67,581.10 479.31,582.26 479.73,584.00 478.20,583.07 476.67,584.00 477.09,582.26 475.73,581.10 477.51,580.95" fill="#b41a3c"/>
<polygon points="483.00,579.30 483.69,580.95 485.47,581.10 484.11,582.26 484.53,584.00 483.00,583.07 481.47,584.00 481.89,582.26 480.53,581.10 482.31,580.95" fill="#b41a3c"/>
<line x1="401.50" y1="534.60" x2="483.80" y2="534.60" stroke="#151515" stroke-width="1.5"/>
<polygon points="433.50,525.35 434.12,526.84 435.73,526.97 434.51,528.03 434.88,529.60 433.50,528.76 432.12,529.60 432.49,528.03 431.27,526.97 432.88,526.84" fill="#111"/>
<line x1="397.00" y1="553.70" x2="436.20" y2="553.70" stroke="#151515" stroke-width="1.5"/>
<polygon points="413.80,544.65 414.42,546.14 416.03,546.27 414.81,547.33 415.18,548.90 413.80,548.06 412.42,548.90 412.79,547.33 411.57,546.27 413.18,546.14" fill="#111"/>
<line x1="446.60" y1="553.80" x2="485.30" y2="553.80" stroke="#151515" stroke-width="1.5"/>
<polygon points="459.60,544.85 460.22,546.34 461.83,546.47 460.61,547.53 460.98,549.10 459.60,548.26 458.22,549.10 458.59,547.53 457.37,546.47 458.98,546.34" fill="#111"/>
<polygon points="464.40,544.85 465.02,546.34 466.63,546.47 465.41,547.53 465.78,549.10 464.40,548.26 463.02,549.10 463.39,547.53 462.17,546.47 463.78,546.34" fill="#111"/>
<line x1="365.40" y1="666.20" x2="365.40" y2="670.70" stroke="#151515" stroke-width="1.4"/>
<line x1="403.80" y1="666.20" x2="403.80" y2="670.70" stroke="#151515" stroke-width="1.4"/>
<line x1="442.30" y1="666.20" x2="442.30" y2="670.70" stroke="#151515" stroke-width="1.4"/>
<line x1="480.60" y1="666.20" x2="480.60" y2="670.70" stroke="#151515" stroke-width="1.4"/>
<line x1="351.00" y1="675.80" x2="385.70" y2="675.80" stroke="#151515" stroke-width="1.5"/>
<line x1="397.70" y1="676.20" x2="496.80" y2="676.20" stroke="#151515" stroke-width="1.5"/>
<text transform="translate(358.60,691.20) scale(1.1298,1)" font-size="11.92" fill="#111" stroke="#111" stroke-width="0.1">HD</text>
<text transform="translate(435.35,691.40) scale(1.0559,1)" font-size="12.17" fill="#111" stroke="#111" stroke-width="0.1">CLL</text>
<line x1="104.20" y1="733.00" x2="104.20" y2="878.60" stroke="#151515" stroke-width="1.85"/>
<line x1="103.30" y1="877.70" x2="272.50" y2="877.70" stroke="#151515" stroke-width="1.85"/>
<line x1="99.20" y1="739.90" x2="104.20" y2="739.90" stroke="#151515" stroke-width="1.4"/>
<path d="M61.38,743.60 L62.96,743.60 L62.96,735.37 L61.78,735.37 L61.12,736.20 L60.33,736.61 L59.14,736.78 L59.14,737.61 L60.33,737.43 L61.38,737.02 Z" fill="#111"/>
<text transform="translate(65.15,743.60) scale(1.1200,1)" font-size="11.75" fill="#111" stroke="#111" stroke-width="0.22">0000</text>
<line x1="99.20" y1="772.49" x2="104.20" y2="772.49" stroke="#151515" stroke-width="1.4"/>
<path d="M68.70,776.19 L70.28,776.19 L70.28,767.96 L69.09,767.96 L68.44,768.78 L67.65,769.19 L66.46,769.37 L66.46,770.19 L67.65,770.02 L68.70,769.61 Z" fill="#111"/>
<text transform="translate(72.46,776.19) scale(1.1200,1)" font-size="11.75" fill="#111" stroke="#111" stroke-width="0.22">000</text>
<line x1="99.20" y1="804.96" x2="104.20" y2="804.96" stroke="#151515" stroke-width="1.4"/>
<path d="M76.02,808.66 L77.59,808.66 L77.59,800.43 L76.41,800.43 L75.75,801.26 L74.96,801.67 L73.78,801.84 L73.78,802.67 L74.96,802.49 L76.02,802.08 Z" fill="#111"/>
<text transform="translate(79.78,808.66) scale(1.1200,1)" font-size="11.75" fill="#111" stroke="#111" stroke-width="0.22">00</text>
<line x1="99.20" y1="836.35" x2="104.20" y2="836.35" stroke="#151515" stroke-width="1.4"/>
<path d="M83.33,840.05 L84.91,840.05 L84.91,831.83 L83.73,831.83 L83.07,832.65 L82.28,833.06 L81.10,833.24 L81.10,834.06 L82.28,833.88 L83.33,833.47 Z" fill="#111"/>
<text transform="translate(87.10,840.05) scale(1.1200,1)" font-size="11.75" fill="#111" stroke="#111" stroke-width="0.22">0</text>
<line x1="99.20" y1="860.49" x2="104.20" y2="860.49" stroke="#151515" stroke-width="1.4"/>
<path d="M90.65,864.19 L92.23,864.19 L92.23,855.96 L91.04,855.96 L90.39,856.78 L89.60,857.20 L88.41,857.37 L88.41,858.19 L89.60,858.02 L90.65,857.61 Z" fill="#111"/>
<line x1="99.20" y1="870.30" x2="104.20" y2="870.30" stroke="#151515" stroke-width="1.4"/>
<text transform="translate(87.10,874.00) scale(1.1200,1)" font-size="11.75" fill="#111" stroke="#111" stroke-width="0.22">0</text>
<text transform="translate(159.39,723.50) scale(1.0392,1)" font-size="15.32" fill="#111" stroke="#111" stroke-width="0.1">NANOG</text>
<line x1="131.70" y1="844.30" x2="131.70" y2="856.20" stroke="#0a0a0a" stroke-width="1.5"/>
<line x1="131.70" y1="863.80" x2="131.70" y2="868.90" stroke="#0a0a0a" stroke-width="1.5"/>
<line x1="129.70" y1="844.30" x2="133.80" y2="844.30" stroke="#0a0a0a" stroke-width="1.6"/>
<line x1="129.70" y1="868.90" x2="133.80" y2="868.90" stroke="#0a0a0a" stroke-width="1.6"/>
<rect x="127.10" y="856.20" width="9.40" height="7.60" fill="#1d5291" stroke="#123f70" stroke-width="0.8"/>
<line x1="127.10" y1="860.80" x2="136.50" y2="860.80" stroke="#0b2747" stroke-width="1.9"/>
<circle cx="131.70" cy="832.00" r="2.1" fill="#151515"/>
<line x1="169.70" y1="791.80" x2="169.70" y2="811.50" stroke="#0a0a0a" stroke-width="1.5"/>
<line x1="169.70" y1="830.00" x2="169.70" y2="848.20" stroke="#0a0a0a" stroke-width="1.5"/>
<line x1="167.70" y1="791.80" x2="172.30" y2="791.80" stroke="#0a0a0a" stroke-width="1.6"/>
<line x1="167.70" y1="848.20" x2="172.30" y2="848.20" stroke="#0a0a0a" stroke-width="1.6"/>
<rect x="165.10" y="811.50" width="9.20" height="18.50" fill="#7b818f"/>
<line x1="165.10" y1="823.50" x2="174.30" y2="823.50" stroke="#15171f" stroke-width="1.9"/>
<polygon points="168.90,775.05 169.52,776.54 171.13,776.67 169.91,777.73 170.28,779.30 168.90,778.46 167.52,779.30 167.89,777.73 166.67,776.67 168.28,776.54" fill="#111"/>
<line x1="208.00" y1="803.10" x2="208.00" y2="812.80" stroke="#0a0a0a" stroke-width="1.5"/>
<line x1="208.00" y1="837.40" x2="208.00" y2="855.70" stroke="#0a0a0a" stroke-width="1.5"/>
<line x1="205.70" y1="803.10" x2="210.30" y2="803.10" stroke="#0a0a0a" stroke-width="1.6"/>
<line x1="205.70" y1="855.70" x2="210.30" y2="855.70" stroke="#0a0a0a" stroke-width="1.6"/>
<rect x="203.40" y="812.80" width="9.40" height="24.60" fill="#b8b9c4"/>
<line x1="203.40" y1="826.60" x2="212.80" y2="826.60" stroke="#15171f" stroke-width="1.9"/>
<polygon points="208.00,767.65 208.62,769.14 210.23,769.27 209.01,770.33 209.38,771.90 208.00,771.06 206.62,771.90 206.99,770.33 205.77,769.27 207.38,769.14" fill="#111"/>
<line x1="246.10" y1="791.40" x2="246.10" y2="803.60" stroke="#0a0a0a" stroke-width="1.5"/>
<line x1="246.10" y1="836.80" x2="246.10" y2="858.20" stroke="#0a0a0a" stroke-width="1.5"/>
<line x1="244.00" y1="791.40" x2="248.50" y2="791.40" stroke="#0a0a0a" stroke-width="1.6"/>
<line x1="244.00" y1="858.20" x2="248.50" y2="858.20" stroke="#0a0a0a" stroke-width="1.6"/>
<rect x="241.20" y="803.60" width="10.00" height="33.20" fill="#dcdce3"/>
<line x1="241.20" y1="818.90" x2="251.20" y2="818.90" stroke="#15171f" stroke-width="1.9"/>
<polygon points="245.80,778.25 246.42,779.74 248.03,779.87 246.81,780.93 247.18,782.50 245.80,781.66 244.42,782.50 244.79,780.93 243.57,779.87 245.18,779.74" fill="#111"/>
<line x1="131.70" y1="877.70" x2="131.70" y2="882.20" stroke="#151515" stroke-width="1.4"/>
<line x1="169.50" y1="877.70" x2="169.50" y2="882.20" stroke="#151515" stroke-width="1.4"/>
<line x1="208.00" y1="877.70" x2="208.00" y2="882.20" stroke="#151515" stroke-width="1.4"/>
<line x1="245.80" y1="877.70" x2="245.80" y2="882.20" stroke="#151515" stroke-width="1.4"/>
<line x1="115.40" y1="887.20" x2="150.00" y2="887.20" stroke="#151515" stroke-width="1.5"/>
<line x1="162.00" y1="887.00" x2="261.30" y2="887.00" stroke="#151515" stroke-width="1.5"/>
<text transform="translate(122.68,903.00) scale(1.1631,1)" font-size="11.77" fill="#111" stroke="#111" stroke-width="0.1">HD</text>
<text transform="translate(200.16,903.30) scale(0.9839,1)" font-size="12.89" fill="#111" stroke="#111" stroke-width="0.1">CLL</text>
<line x1="337.70" y1="731.50" x2="337.70" y2="878.60" stroke="#151515" stroke-width="1.85"/>
<line x1="336.80" y1="877.70" x2="504.00" y2="877.70" stroke="#151515" stroke-width="1.85"/>
<line x1="332.70" y1="738.70" x2="337.70" y2="738.70" stroke="#151515" stroke-width="1.4"/>
<path d="M294.88,742.40 L296.46,742.40 L296.46,734.17 L295.28,734.17 L294.62,735.00 L293.83,735.41 L292.64,735.58 L292.64,736.41 L293.83,736.23 L294.88,735.82 Z" fill="#111"/>
<text transform="translate(298.65,742.40) scale(1.1200,1)" font-size="11.75" fill="#111" stroke="#111" stroke-width="0.22">0000</text>
<line x1="332.70" y1="771.59" x2="337.70" y2="771.59" stroke="#151515" stroke-width="1.4"/>
<path d="M302.20,775.29 L303.78,775.29 L303.78,767.06 L302.59,767.06 L301.94,767.88 L301.15,768.29 L299.96,768.47 L299.96,769.29 L301.15,769.12 L302.20,768.71 Z" fill="#111"/>
<text transform="translate(305.96,775.29) scale(1.1200,1)" font-size="11.75" fill="#111" stroke="#111" stroke-width="0.22">000</text>
<line x1="332.70" y1="804.36" x2="337.70" y2="804.36" stroke="#151515" stroke-width="1.4"/>
<path d="M309.52,808.06 L311.09,808.06 L311.09,799.83 L309.91,799.83 L309.25,800.66 L308.46,801.07 L307.28,801.24 L307.28,802.07 L308.46,801.89 L309.52,801.48 Z" fill="#111"/>
<text transform="translate(313.28,808.06) scale(1.1200,1)" font-size="11.75" fill="#111" stroke="#111" stroke-width="0.22">00</text>
<line x1="332.70" y1="836.04" x2="337.70" y2="836.04" stroke="#151515" stroke-width="1.4"/>
<path d="M316.83,839.74 L318.41,839.74 L318.41,831.51 L317.23,831.51 L316.57,832.34 L315.78,832.75 L314.60,832.92 L314.60,833.75 L315.78,833.57 L316.83,833.16 Z" fill="#111"/>
<text transform="translate(320.60,839.74) scale(1.1200,1)" font-size="11.75" fill="#111" stroke="#111" stroke-width="0.22">0</text>
<line x1="332.70" y1="860.40" x2="337.70" y2="860.40" stroke="#151515" stroke-width="1.4"/>
<path d="M324.15,864.10 L325.73,864.10 L325.73,855.87 L324.54,855.87 L323.89,856.69 L323.10,857.10 L321.91,857.28 L321.91,858.10 L323.10,857.93 L324.15,857.52 Z" fill="#111"/>
<line x1="332.70" y1="870.30" x2="337.70" y2="870.30" stroke="#151515" stroke-width="1.4"/>
<text transform="translate(320.60,874.00) scale(1.1200,1)" font-size="11.75" fill="#111" stroke="#111" stroke-width="0.22">0</text>
<text transform="translate(396.09,722.40) scale(1.0620,1)" font-size="15.04" fill="#111" stroke="#111" stroke-width="0.1">CD</text>
<path d="M423.47,722.40 L425.38,722.40 L425.38,711.87 L423.95,711.87 L423.15,712.93 L422.19,713.45 L420.75,713.68 L420.75,714.73 L422.19,714.51 L423.47,713.98 Z" fill="#111"/>
<text transform="translate(428.04,722.40) scale(1.0620,1)" font-size="15.04" fill="#111" stroke="#111" stroke-width="0.1">33</text>
<line x1="365.40" y1="830.50" x2="365.40" y2="852.60" stroke="#0a0a0a" stroke-width="1.5"/>
<line x1="365.40" y1="870.00" x2="365.40" y2="870.50" stroke="#0a0a0a" stroke-width="1.5"/>
<line x1="363.00" y1="830.50" x2="367.70" y2="830.50" stroke="#0a0a0a" stroke-width="1.6"/>
<line x1="363.00" y1="870.50" x2="367.70" y2="870.50" stroke="#0a0a0a" stroke-width="1.6"/>
<rect x="360.80" y="852.60" width="9.20" height="17.40" fill="#1d5291" stroke="#123f70" stroke-width="0.8"/>
<line x1="360.80" y1="865.80" x2="370.00" y2="865.80" stroke="#0b2747" stroke-width="1.9"/>
<line x1="403.80" y1="820.80" x2="403.80" y2="844.60" stroke="#0a0a0a" stroke-width="1.5"/>
<line x1="403.80" y1="864.60" x2="403.80" y2="870.00" stroke="#0a0a0a" stroke-width="1.5"/>
<line x1="401.50" y1="820.80" x2="406.50" y2="820.80" stroke="#0a0a0a" stroke-width="1.6"/>
<line x1="401.50" y1="870.00" x2="406.50" y2="870.00" stroke="#0a0a0a" stroke-width="1.6"/>
<rect x="399.20" y="844.60" width="9.60" height="20.00" fill="#7b818f"/>
<line x1="399.20" y1="854.30" x2="408.80" y2="854.30" stroke="#15171f" stroke-width="1.9"/>
<polygon points="401.80,796.15 402.42,797.64 404.03,797.77 402.81,798.83 403.18,800.40 401.80,799.56 400.42,800.40 400.79,798.83 399.57,797.77 401.18,797.64" fill="#111"/>
<polygon points="406.60,796.15 407.22,797.64 408.83,797.77 407.61,798.83 407.98,800.40 406.60,799.56 405.22,800.40 405.59,798.83 404.37,797.77 405.98,797.64" fill="#111"/>
<line x1="442.60" y1="828.00" x2="442.60" y2="837.00" stroke="#0a0a0a" stroke-width="1.5"/>
<line x1="442.60" y1="868.00" x2="442.60" y2="870.00" stroke="#0a0a0a" stroke-width="1.5"/>
<line x1="440.50" y1="828.00" x2="445.00" y2="828.00" stroke="#0a0a0a" stroke-width="1.6"/>
<line x1="440.50" y1="870.00" x2="445.00" y2="870.00" stroke="#0a0a0a" stroke-width="1.6"/>
<rect x="438.00" y="837.00" width="9.20" height="31.00" fill="#b8b9c4"/>
<line x1="438.00" y1="859.70" x2="447.20" y2="859.70" stroke="#15171f" stroke-width="1.9"/>
<polygon points="441.80,789.15 442.42,790.64 444.03,790.77 442.81,791.83 443.18,793.40 441.80,792.56 440.42,793.40 440.79,791.83 439.57,790.77 441.18,790.64" fill="#111"/>
<polygon points="446.60,789.15 447.22,790.64 448.83,790.77 447.61,791.83 447.98,793.40 446.60,792.56 445.22,793.40 445.59,791.83 444.37,790.77 445.98,790.64" fill="#111"/>
<line x1="481.40" y1="826.80" x2="481.40" y2="845.70" stroke="#0a0a0a" stroke-width="1.5"/>
<line x1="481.40" y1="862.50" x2="481.40" y2="870.50" stroke="#0a0a0a" stroke-width="1.5"/>
<line x1="479.20" y1="826.80" x2="483.70" y2="826.80" stroke="#0a0a0a" stroke-width="1.6"/>
<line x1="479.20" y1="870.50" x2="483.70" y2="870.50" stroke="#0a0a0a" stroke-width="1.6"/>
<rect x="476.40" y="845.70" width="9.60" height="16.80" fill="#dcdce3"/>
<line x1="476.40" y1="856.50" x2="486.00" y2="856.50" stroke="#15171f" stroke-width="1.9"/>
<circle cx="481.40" cy="810.30" r="1.55" fill="none" stroke="#0d0d0d" stroke-width="1.3"/>
<polygon points="479.10,802.85 479.72,804.34 481.33,804.47 480.11,805.53 480.48,807.10 479.10,806.26 477.72,807.10 478.09,805.53 476.87,804.47 478.48,804.34" fill="#111"/>
<polygon points="483.90,802.85 484.52,804.34 486.13,804.47 484.91,805.53 485.28,807.10 483.90,806.26 482.52,807.10 482.89,805.53 481.67,804.47 483.28,804.34" fill="#111"/>
<line x1="365.40" y1="877.70" x2="365.40" y2="882.20" stroke="#151515" stroke-width="1.4"/>
<line x1="403.80" y1="877.70" x2="403.80" y2="882.20" stroke="#151515" stroke-width="1.4"/>
<line x1="442.50" y1="877.70" x2="442.50" y2="882.20" stroke="#151515" stroke-width="1.4"/>
<line x1="481.30" y1="877.70" x2="481.30" y2="882.20" stroke="#151515" stroke-width="1.4"/>
<line x1="352.60" y1="887.20" x2="386.90" y2="887.20" stroke="#151515" stroke-width="1.5"/>
<line x1="398.80" y1="887.00" x2="498.30" y2="887.00" stroke="#151515" stroke-width="1.5"/>
<text transform="translate(359.68,902.80) scale(1.1777,1)" font-size="11.63" fill="#111" stroke="#111" stroke-width="0.1">HD</text>
<text transform="translate(437.38,903.30) scale(0.9529,1)" font-size="12.89" fill="#111" stroke="#111" stroke-width="0.1">CLL</text>
<rect x="168" y="923" width="9.8" height="10" fill="#6f7587"/>
<rect x="249.2" y="923.2" width="9.8" height="9.8" fill="#b4b5c1"/>
<rect x="356.2" y="923.2" width="9.6" height="9.8" fill="#dcdce4"/>
<text transform="translate(182.30,933.00) scale(0.9541,1)" font-size="12.97" fill="#111" stroke="#111" stroke-width="0.1">untreated</text>
<text transform="translate(264.39,932.30) scale(0.9022,1)" font-size="13.39" fill="#111" stroke="#111" stroke-width="0.1">chemotherapy</text>
<text transform="translate(370.45,932.30) scale(0.9718,1)" font-size="12.83" fill="#111" stroke="#111" stroke-width="0.1">Ibrutinib</text>
</g></svg>
</body></html>
